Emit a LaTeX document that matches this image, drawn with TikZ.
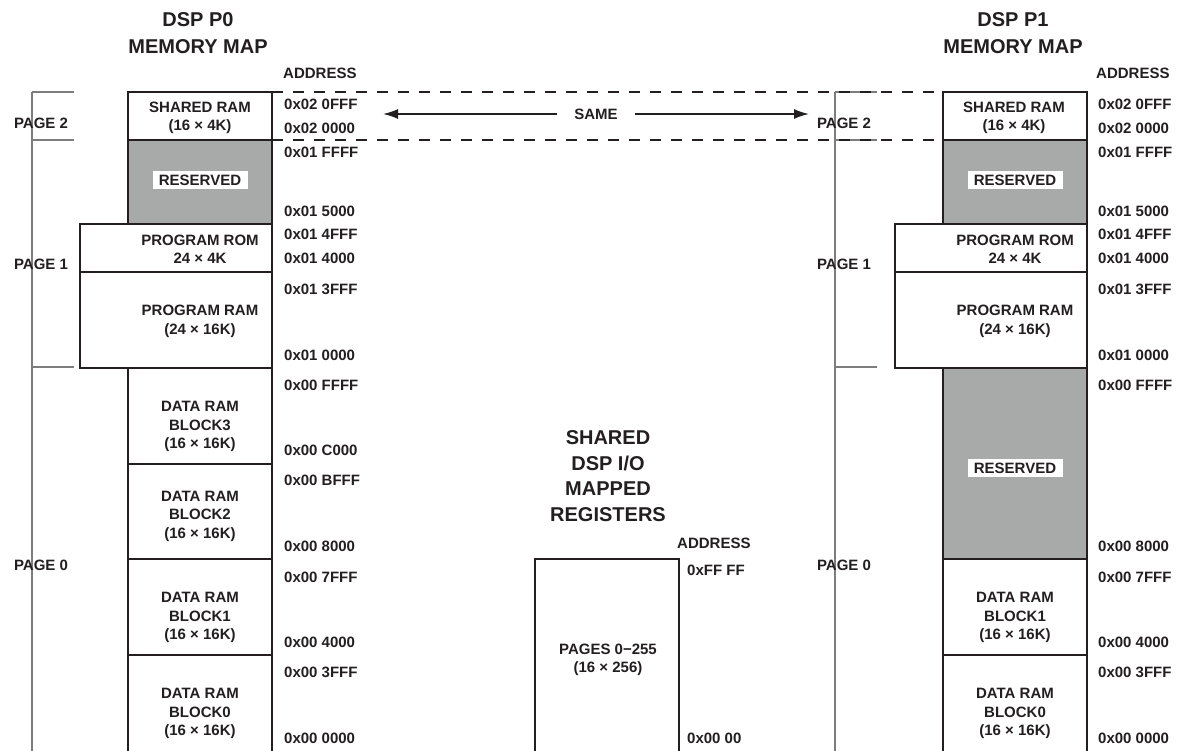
\documentclass[tikz,border=0pt]{standalone}
\usepackage{fontspec}
\setmainfont{Liberation Sans}
\usetikzlibrary{arrows.meta}
\definecolor{resgray}{RGB}{168,169,169}
\definecolor{linec}{RGB}{35,31,32}
\definecolor{brk}{RGB}{125,125,125}
\tikzset{
 box/.style={draw=linec, line width=1.4pt},
 gbox/.style={draw=linec, fill=resgray, line width=1.4pt},
 lbl/.style={font=\fontsize{15}{18.5}\selectfont\bfseries, align=center, inner sep=0, text=linec},
 addr/.style={font=\fontsize{15}{18}\selectfont\bfseries, anchor=west, inner sep=0, text=linec},
 ttl/.style={font=\fontsize{20}{27}\selectfont\bfseries, align=center, inner sep=0, text=linec},
 rsv/.style={fill=white, minimum width=95pt, minimum height=18pt, inner sep=0, font=\fontsize{15}{18}\selectfont\bfseries, text=linec},
 brkt/.style={draw=brk, line width=1.2pt},
 dsh/.style={draw=linec, line width=1.4pt, dash pattern=on 11pt off 10pt},
 arr/.style={draw=linec, line width=1.6pt, -{Latex[length=15pt,width=10pt]}},
}
\begin{document}
\begin{tikzpicture}[x=1pt,y=-1pt]
\useasboundingbox (0,0) rectangle (1183,750);
% ---------------- left map ----------------
\draw[brkt] (32,92) -- (32,752);
\draw[brkt] (32,92) -- (74,92);
\draw[brkt] (32,140) -- (74,140);
\draw[brkt] (32,367) -- (74,367);
\draw[gbox] (128,140) rectangle (272,224);
\draw[box] (128,92) rectangle (272,140);
\draw[box] (80,224) rectangle (272,272);
\draw[box] (80,272) rectangle (272,368);
\draw[box] (128,368) rectangle (272,464);
\draw[box] (128,464) rectangle (272,559);
\draw[box] (128,559) rectangle (272,655);
\draw[box] (128,655) rectangle (272,755);
% ---------------- right map ----------------
\draw[brkt] (835,92) -- (835,752);
\draw[brkt] (835,92) -- (877,92);
\draw[brkt] (835,140) -- (877,140);
\draw[brkt] (835,367) -- (877,367);
\draw[gbox] (943,140) rectangle (1087,224);
\draw[box] (943,92) rectangle (1087,140);
\draw[box] (895,224) rectangle (1087,272);
\draw[box] (895,272) rectangle (1087,368);
\draw[gbox] (943,368) rectangle (1087,559);
\draw[box] (943,559) rectangle (1087,655);
\draw[box] (943,655) rectangle (1087,755);
% ---------------- I/O box ----------------
\draw[box] (535,559) rectangle (679,755);
% dashed link
\draw[dsh] (272,92) -- (943,92);
\draw[dsh] (272,140) -- (943,140);
% titles
\node[ttl] (t0) at (198,33) {DSP P0\\MEMORY MAP};
\node[ttl] (t1) at (1013,33) {DSP P1\\MEMORY MAP};
\node[ttl, font=\fontsize{20}{25.7}\selectfont\bfseries] (tio) at (608,476) {SHARED\\DSP I/O\\MAPPED\\REGISTERS};
% SAME arrows
\node[lbl, minimum width=78pt, minimum height=16pt] (same) at (596,114) {SAME};
\coordinate (sameL) at (383,114);
\coordinate (sameR) at (809,114);
\draw[arr] (same.west) -- (sameL);
\draw[arr] (same.east) -- (sameR);
% page labels
\node[lbl] (pg2l) at (41,123) {PAGE 2};
\node[lbl] (pg1l) at (41,264) {PAGE 1};
\node[lbl] (pg0l) at (41,565) {PAGE 0};
\node[lbl] (pg2r) at (844,123) {PAGE 2};
\node[lbl] (pg1r) at (844,264) {PAGE 1};
\node[lbl] (pg0r) at (844,565) {PAGE 0};
% left box texts
\node[lbl] (sr0) at (200,118) {SHARED RAM\\(16 × 4K)};
\node[rsv] (rv0) at (200,180) {RESERVED};
\node[lbl] (pr0) at (200,249.5) {PROGRAM ROM\\24 × 4K};
\node[lbl] (pm0) at (200,321.5) {PROGRAM RAM\\(24 × 16K)};
\node[lbl] (d30) at (200,426.5) {DATA RAM\\BLOCK3\\(16 × 16K)};
\node[lbl] (d20) at (200,516) {DATA RAM\\BLOCK2\\(16 × 16K)};
\node[lbl] (d10) at (200,617.5) {DATA RAM\\BLOCK1\\(16 × 16K)};
\node[lbl] (d00) at (200,713.5) {DATA RAM\\BLOCK0\\(16 × 16K)};
% right box texts
\node[lbl] (sr1) at (1014,118) {SHARED RAM\\(16 × 4K)};
\node[rsv] (rv1) at (1015,180) {RESERVED};
\node[lbl] (pr1) at (1015,249.5) {PROGRAM ROM\\24 × 4K};
\node[lbl] (pm1) at (1015,321.5) {PROGRAM RAM\\(24 × 16K)};
\node[rsv] (rv2) at (1015,468) {RESERVED};
\node[lbl] (d11) at (1015,617.5) {DATA RAM\\BLOCK1\\(16 × 16K)};
\node[lbl] (d01) at (1015,713.5) {DATA RAM\\BLOCK0\\(16 × 16K)};
% IO texts
\node[lbl] (pio) at (608,660) {PAGES 0−255\\(16 × 256)};
\node[addr] (aio) at (677,543) {ADDRESS};
\node[addr] (io1) at (687,570) {0xFF FF};
\node[addr] (io0) at (687,738) {0x00 00};
% left addresses
\node[addr] (al) at (283,73) {ADDRESS};
\node[addr] (a01) at (284,104) {0x02 0FFF};
\node[addr] (a02) at (284,128) {0x02 0000};
\node[addr] (a03) at (284,152) {0x01 FFFF};
\node[addr] (a04) at (284,211) {0x01 5000};
\node[addr] (a05) at (284,234) {0x01 4FFF};
\node[addr] (a06) at (284,258) {0x01 4000};
\node[addr] (a07) at (284,289) {0x01 3FFF};
\node[addr] (a08) at (284,355) {0x01 0000};
\node[addr] (a09) at (284,385) {0x00 FFFF};
\node[addr] (a10) at (284,450) {0x00 C000};
\node[addr] (a11) at (284,480) {0x00 BFFF};
\node[addr] (a12) at (284,546) {0x00 8000};
\node[addr] (a13) at (284,577) {0x00 7FFF};
\node[addr] (a14) at (284,642) {0x00 4000};
\node[addr] (a15) at (284,672) {0x00 3FFF};
\node[addr] (a16) at (284,738) {0x00 0000};
% right addresses
\node[addr] (ar) at (1096,73) {ADDRESS};
\node[addr] (b01) at (1098,104) {0x02 0FFF};
\node[addr] (b02) at (1098,128) {0x02 0000};
\node[addr] (b03) at (1098,152) {0x01 FFFF};
\node[addr] (b04) at (1098,211) {0x01 5000};
\node[addr] (b05) at (1098,234) {0x01 4FFF};
\node[addr] (b06) at (1098,258) {0x01 4000};
\node[addr] (b07) at (1098,289) {0x01 3FFF};
\node[addr] (b08) at (1098,355) {0x01 0000};
\node[addr] (b09) at (1098,385) {0x00 FFFF};
\node[addr] (b12) at (1098,546) {0x00 8000};
\node[addr] (b13) at (1098,577) {0x00 7FFF};
\node[addr] (b14) at (1098,642) {0x00 4000};
\node[addr] (b15) at (1098,672) {0x00 3FFF};
\node[addr] (b16) at (1098,738) {0x00 0000};
\end{tikzpicture}
\end{document}
